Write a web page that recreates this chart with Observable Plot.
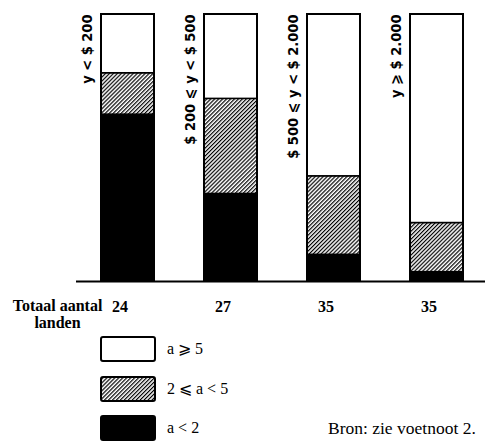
<!DOCTYPE html>
<html>
<head>
<meta charset="utf-8">
<script src="https://cdn.jsdelivr.net/npm/d3@7"></script>
<script src="https://cdn.jsdelivr.net/npm/@observablehq/plot@0.6"></script>
<style>
  html, body { margin: 0; padding: 0; background: #fff; }
  #chart { width: 485px; }
  #legend { position: relative; width: 485px; height: 106px; font-family: "Liberation Serif", "DejaVu Serif", serif; color: #000; }
  #legend .box { position: absolute; left: 100px; }
  #legend .lab { position: absolute; left: 167px; font-size: 16px; line-height: 20px; white-space: nowrap; }
  #legend .src { position: absolute; left: 328px; font-size: 17.5px; line-height: 20px; white-space: nowrap; }
</style>
</head>
<body>
<div id="chart"></div>
<div id="legend"></div>
<script>
// Income groups (bars)
const categories = ["y < $ 200", "$ 200 ⩽ y < $ 500", "$ 500 ⩽ y < $ 2.000", "y ⩾ $ 2.000"];
// Total number of countries per group
const totals = [24, 27, 35, 35];
// Classes (bottom to top)
const classes = ["a < 2", "2 ⩽ a < 5", "a ⩾ 5"];
// Share of countries (%) per class
const shareLow  = [62.5, 32.8, 10.0, 3.5];
const shareMid  = [15.5, 35.6, 29.4, 18.4];
const shareHigh = [22.0, 31.6, 60.6, 78.1];
// Legend order (top to bottom)
const legendOrder = ["a ⩾ 5", "2 ⩽ a < 5", "a < 2"];
const sourceNote = "Bron: zie voetnoot 2.";
const axisNote = "Totaal aantal\nlanden";

const rows = categories.flatMap((c, i) => [
  {cat: c, cls: classes[0], v: shareLow[i]},
  {cat: c, cls: classes[1], v: shareMid[i]},
  {cat: c, cls: classes[2], v: shareHigh[i]}
]);
const fills = ["black", "url(#hatch)", "white"];

const sans = "'Liberation Sans Narrow', 'DejaVu Sans Condensed', 'DejaVu Sans', sans-serif";
const serif = "'Liberation Serif', 'DejaVu Serif', serif";

const svg = Plot.plot({
  width: 485,
  height: 335,
  marginTop: 14,
  marginBottom: 54,
  marginLeft: 76,
  marginRight: 0,
  x: {domain: categories, range: [100, 463], paddingInner: 0.487, paddingOuter: 0},
  y: {domain: [0, 100], axis: null},
  color: {type: "ordinal", domain: classes, range: fills},
  marks: [
    Plot.barY(rows, {x: "cat", y: "v", fill: "cls", stroke: "black", strokeWidth: 1.5}),
    Plot.barY(categories, {x: d => d, y: () => 100, fill: "none", stroke: "black", strokeWidth: 2}),
    Plot.ruleY([0], {stroke: "black", strokeWidth: 2}),
    Plot.text(categories, {
      x: d => d, y: () => 100, text: d => d, rotate: -90, textAnchor: "end",
      dx: -41, fontSize: 14.5, fontFamily: sans, fontWeight: "bold", fill: "black"
    }),
    Plot.axisX({
      tickSize: 0, tickPadding: 19, label: null, dx: -8,
      tickFormat: d => totals[categories.indexOf(d)],
      fontSize: 16, fontFamily: serif, fontWeight: "bold", fill: "black"
    }),
    Plot.text([axisNote], {
      frameAnchor: "bottom-left", textAnchor: "middle", lineAnchor: "middle",
      dx: -19, dy: 32.5, lineHeight: 1.05, fontSize: 16, fontFamily: serif,
      fontWeight: "bold", fill: "black"
    })
  ]
});

// hatch pattern definition
const defs = d3.select(svg).insert("defs", ":first-child");
const pat = defs.append("pattern")
  .attr("id", "hatch")
  .attr("patternUnits", "userSpaceOnUse")
  .attr("width", 2.8).attr("height", 2.8)
  .attr("patternTransform", "rotate(45)");
pat.append("rect").attr("width", 2.8).attr("height", 2.8).attr("fill", "white");
pat.append("rect").attr("width", 1.2).attr("height", 2.8).attr("fill", "black");

document.getElementById("chart").appendChild(svg);

// legend
const legend = d3.select("#legend");
const fillOf = d => fills[classes.indexOf(d)];
legendOrder.forEach((c, i) => {
  const top = 1 + i * 39.5;
  const b = legend.append("svg").attr("class", "box")
    .style("top", top + "px").attr("width", 56).attr("height", 26);
  b.append("rect").attr("x", 1).attr("y", 1).attr("width", 54).attr("height", 24)
    .attr("rx", 2).attr("fill", fillOf(c)).attr("stroke", "black").attr("stroke-width", 2);
  legend.append("div").attr("class", "lab")
    .style("top", (top + 3) + "px").text(c);
});
legend.append("div").attr("class", "src").style("top", (1 + 2 * 39.5 + 3) + "px").text(sourceNote);
</script>
</body>
</html>
